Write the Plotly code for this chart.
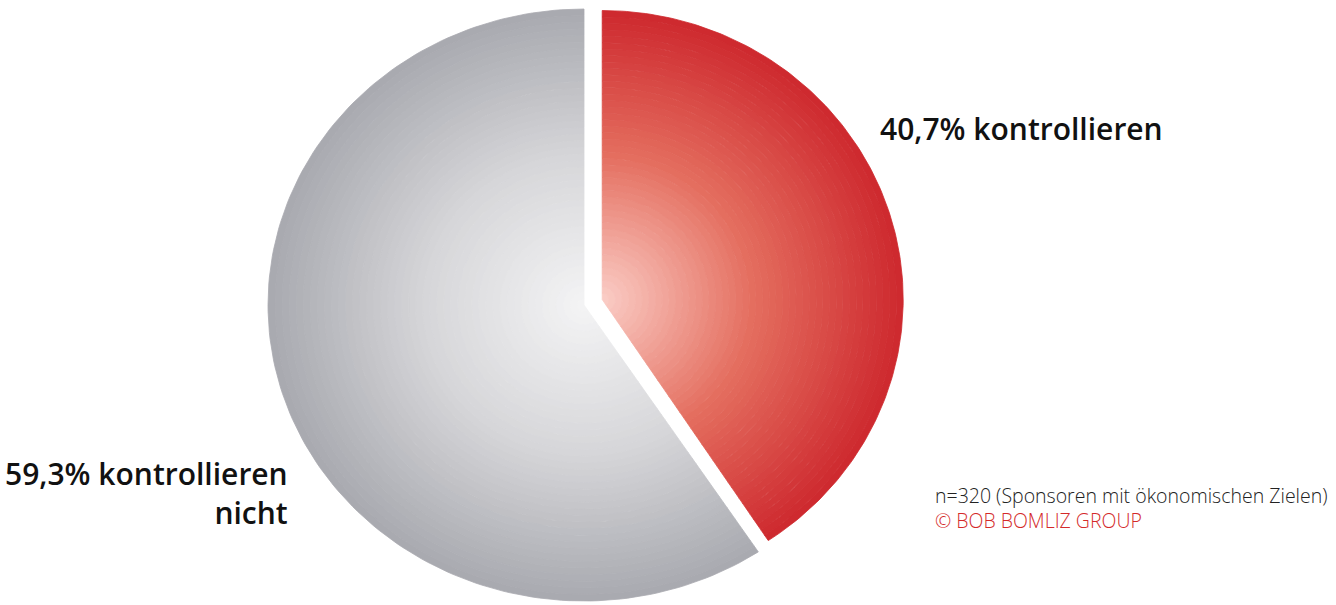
import numpy as np
import plotly.graph_objects as go

# ---- data ----
categories = ["kontrollieren", "kontrollieren nicht"]
shares = [40.7, 59.3]
slice_labels = ["40,7% kontrollieren", "59,3% kontrollieren<br>nicht"]
note_text = "n=320 (Sponsoren mit ökonomischen Zielen)"
copyright_text = "© BOB BOMLIZ GROUP"

# ---- styling / layout constants ----
W, H = 1336, 605
center = (584, 305)          # pie centre in pixels
radii = [(301, 289), (316, 296)]  # (rx, ry) per slice
pull_px = [19, 0]            # explode distance per slice
inner_cols = [(250, 205, 198), (244, 244, 245)]
mid_cols = [(228, 110, 95), (214, 214, 217)]
outer_cols = [(206, 40, 46), (168, 169, 175)]
N_RINGS = 45


def lerp(c0, c1, t):
    return tuple(int(round(a + (b - a) * t)) for a, b in zip(c0, c1))


def ring_color(k, t):
    if t < 0.5:
        c = lerp(inner_cols[k], mid_cols[k], t / 0.5)
    else:
        c = lerp(mid_cols[k], outer_cols[k], (t - 0.5) / 0.5)
    return "rgb(%d,%d,%d)" % c


fig = go.Figure()
total = sum(shares)
start = 0.0
for k, val in enumerate(shares):
    sweep = val / total * 360.0
    t0, t1 = start, start + sweep
    mid = np.radians((t0 + t1) / 2)
    cx = center[0] + pull_px[k] * np.sin(mid)
    cy = center[1] - pull_px[k] * np.cos(mid)
    rx, ry = radii[k]
    th = np.radians(np.linspace(t0, t1, 160))
    for i in range(N_RINGS):
        r_in = i / N_RINGS
        r_out = (i + 1) / N_RINGS
        xo = cx + rx * r_out * np.sin(th)
        yo = cy - ry * r_out * np.cos(th)
        xi = cx + rx * r_in * np.sin(th[::-1])
        yi = cy - ry * r_in * np.cos(th[::-1])
        xs = np.concatenate([xo, xi, xo[:1]])
        ys = np.concatenate([yo, yi, yo[:1]])
        col = ring_color(k, (i + 0.5) / N_RINGS)
        fig.add_trace(go.Scatter(
            x=xs, y=ys, mode="lines", fill="toself",
            fillcolor=col, line=dict(color=col, width=0.8),
            hoverinfo="skip", showlegend=False, name=categories[k]))
    start = t1

label_font = dict(family="Open Sans", size=30, color="#111111", weight=600)
fig.add_annotation(x=878, y=128, xref="x", yref="y", text=slice_labels[0],
                   showarrow=False, xanchor="left", yanchor="middle",
                   font=label_font)
fig.add_annotation(x=290, y=493, xref="x", yref="y", text=slice_labels[1],
                   showarrow=False, xanchor="right", yanchor="middle", align="right",
                   font=label_font)
fig.add_annotation(
    x=933, y=508, xref="x", yref="y",
    text=note_text + "<br><span style='color:#d42a2a'>" + copyright_text + "</span>",
    showarrow=False, xanchor="left", yanchor="middle", align="left",
    font=dict(family="Open Sans", size=19.5, color="#222222", weight=300))

fig.update_layout(
    width=W, height=H, margin=dict(l=0, r=0, t=0, b=0),
    paper_bgcolor="white", plot_bgcolor="white",
    xaxis=dict(range=[0, W], visible=False, fixedrange=True),
    yaxis=dict(range=[H, 0], visible=False, fixedrange=True),
    showlegend=False,
)
fig.write_html("out.html")
